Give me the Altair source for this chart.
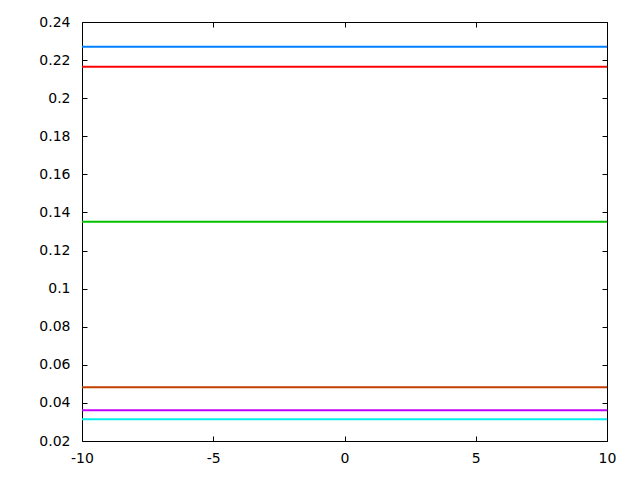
import altair as alt
import pandas as pd

series = ["s1", "s2", "s3", "s4", "s5", "s6"]
levels = [0.2270, 0.2165, 0.1351, 0.0482, 0.0361, 0.0314]
colors = ["#0080ff", "#ff0000", "#00c000", "#c04000", "#c000ff", "#00eeee"]
x_span = [-10, 10]
x_ticks = [-10, -5, 0, 5, 10]
y_ticks = [0.02, 0.04, 0.06, 0.08, 0.1, 0.12, 0.14, 0.16, 0.18, 0.2, 0.22, 0.24]

rows = [{"series": s, "x": x, "y": v} for s, v in zip(series, levels) for x in x_span]
df = pd.DataFrame(rows)

W, H = 525, 419
xs = alt.Scale(domain=[-10, 10], nice=False, zero=False)
ys = alt.Scale(domain=[0.02, 0.24], nice=False, zero=False)

base = alt.Chart(df)

lines = base.mark_line(strokeWidth=2).encode(
    x=alt.X("x:Q", scale=xs, axis=alt.Axis(orient="bottom", values=x_ticks, ticks=False, tickSize=0,
                                           domain=False, grid=False, labelPadding=10, title=None,
                                           labelFlush=False, labelOverlap=False,
                                           labelExpr="'' + datum.value")),
    y=alt.Y("y:Q", scale=ys, axis=alt.Axis(orient="left", values=y_ticks, ticks=False,
                                           tickSize=0, domain=False, grid=False, labelPadding=12, title=None,
                                           labelFlush=False, labelOverlap=False,
                                           labelExpr="'' + datum.value")),
    color=alt.Color("series:N", scale=alt.Scale(domain=series, range=colors), legend=None),
    detail="series:N",
)

ticks_a = base.mark_line(opacity=0).encode(
    x=alt.X("x:Q", scale=xs, axis=alt.Axis(orient="top", offset=-H, values=x_ticks, labels=False,
                                           domain=False, grid=False, tickSize=5, title=None)),
    y=alt.Y("y:Q", scale=ys, axis=alt.Axis(orient="right", offset=-W, values=y_ticks, labels=False,
                                           domain=False, grid=False, tickSize=5, title=None)),
    detail="series:N",
)

ticks_b = base.mark_line(opacity=0).encode(
    x=alt.X("x:Q", scale=xs, axis=alt.Axis(orient="bottom", offset=-H, values=x_ticks, labels=False,
                                           domain=False, grid=False, tickSize=5, title=None)),
    y=alt.Y("y:Q", scale=ys, axis=alt.Axis(orient="left", offset=-W, values=y_ticks, labels=False,
                                           domain=False, grid=False, tickSize=5, title=None)),
    detail="series:N",
)

chart = (
    alt.layer(lines, ticks_a, ticks_b)
    .resolve_axis(x="independent", y="independent")
    .properties(
        width=W,
        height=H,
        autosize=alt.AutoSizeParams(type="none"),
        padding={"left": 74, "top": 14, "right": 25, "bottom": 31},
    )
    .configure_view(stroke="black", strokeWidth=1)
    .configure_axis(labelFont="DejaVu Sans", labelFontSize=14, labelColor="black",
                    tickColor="black", tickWidth=1)
)

chart.save("out.html", embed_options={"renderer": "svg", "actions": False})
